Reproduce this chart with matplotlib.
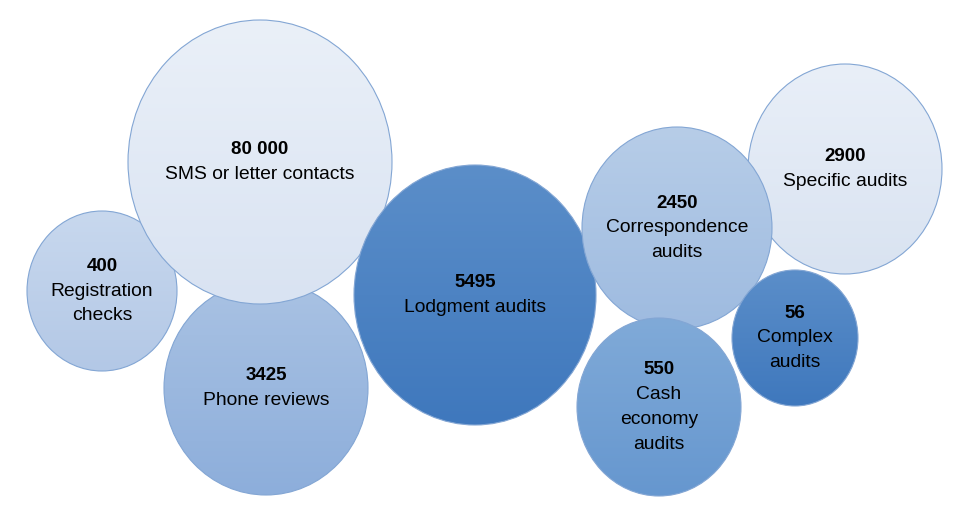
import numpy as np
import matplotlib
matplotlib.use("Agg")
import matplotlib.pyplot as plt
from matplotlib.patches import Ellipse
from matplotlib.colors import to_rgb

plt.rcParams['font.family'] = ['Liberation Sans', 'DejaVu Sans']

# bubble data (drawing order = back to front)
values = ["400", "3425", "80 000", "5495", "2900", "2450", "550", "56"]
labels = ["Registration\nchecks", "Phone reviews", "SMS or letter contacts",
          "Lodgment audits", "Specific audits", "Correspondence\naudits",
          "Cash\neconomy\naudits", "Complex\naudits"]
bx = [102, 266, 260, 475, 845, 677, 659, 795]
by = [228, 131, 357, 224, 350, 291, 112, 181]
bw = [150, 204, 264, 242, 194, 190, 164, 126]
bh = [160, 214, 284, 260, 210, 202, 178, 136]
top_col = ["#c8d8ee", "#a9c2e3", "#eaf0f8", "#5b8ec9", "#e9eff8", "#b7cde8", "#80aad8", "#5b8ec9"]
bot_col = ["#b3c8e6", "#8daedb", "#d9e3f2", "#3f78bd", "#d9e3f1", "#9ebbe0", "#6697cf", "#3f78bd"]

fig = plt.figure(figsize=(9.71, 5.19), dpi=100)
ax = fig.add_axes([0, 0, 1, 1])
ax.set_xlim(0, 971)
ax.set_ylim(0, 519)
ax.axis('off')

line_h = 17.8  # points between text lines

for i in range(len(values)):
    x0 = bx[i] - bw[i] / 2
    x1 = bx[i] + bw[i] / 2
    y0 = by[i] - bh[i] / 2
    y1 = by[i] + bh[i] / 2
    t = np.linspace(0, 1, 64)[:, None]
    c_top = np.array(to_rgb(top_col[i]))
    c_bot = np.array(to_rgb(bot_col[i]))
    grad = (c_top * (1 - t) + c_bot * t).reshape(64, 1, 3)
    ell = Ellipse((bx[i], by[i]), bw[i], bh[i], facecolor='none',
                  edgecolor='#83a6d4', lw=0.8, zorder=2 * i + 1)
    ax.add_patch(ell)
    im = ax.imshow(grad, extent=[x0, x1, y0, y1], aspect='auto',
                   interpolation='bilinear', zorder=2 * i)
    im.set_clip_path(ell)

    lines = [values[i]] + labels[i].split("\n")
    n = len(lines)
    for j, s in enumerate(lines):
        off = ((n - 1) / 2 - j) * line_h
        if j == 0:
            ax.annotate(s, (bx[i], by[i]), xytext=(0, off), textcoords='offset points',
                        ha='center', va='center', fontsize=13.5, fontweight='bold',
                        color='black', zorder=50)
        else:
            ax.annotate(s, (bx[i], by[i]), xytext=(0, off), textcoords='offset points',
                        ha='center', va='center', fontsize=13.9, color='black', zorder=50)

fig.savefig("out.png", dpi=100)
